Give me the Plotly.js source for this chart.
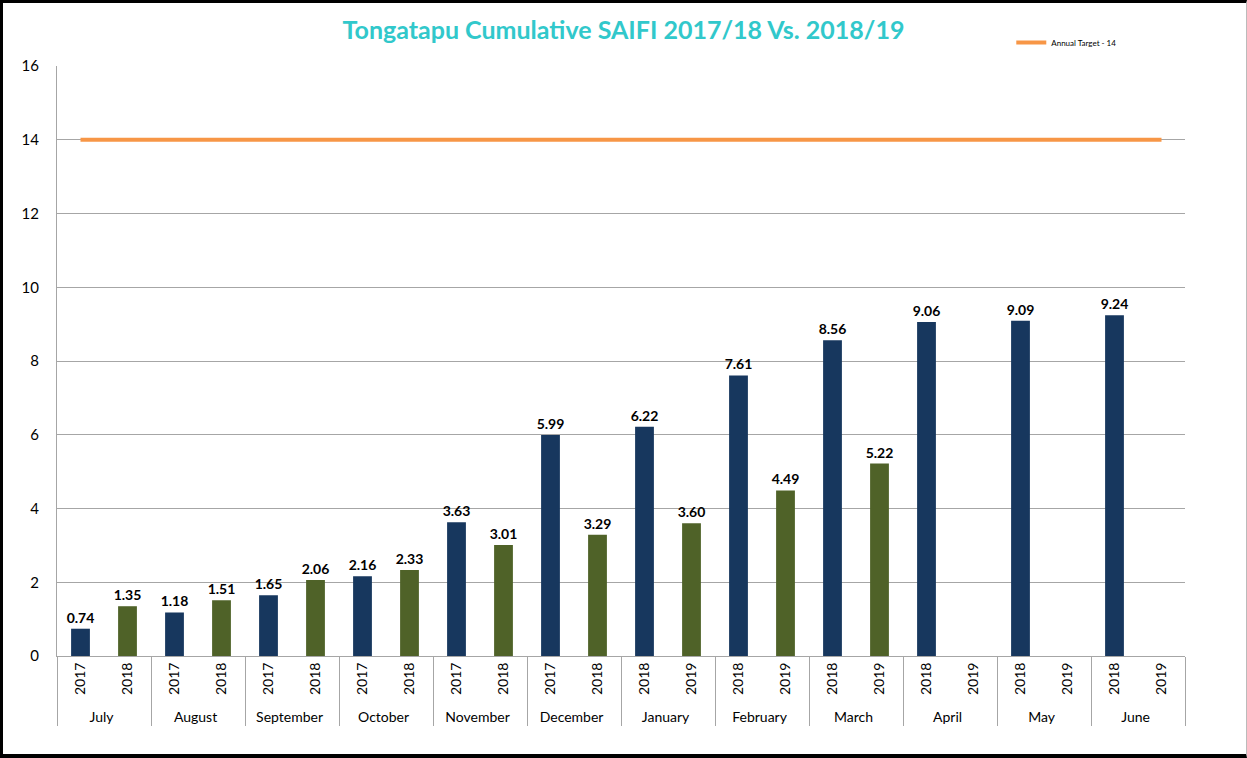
<!DOCTYPE html>
<html>
<head>
<meta charset="utf-8">
<script src="https://cdn.plot.ly/plotly-3.0.1.min.js"></script>
<style>
  html, body { margin: 0; padding: 0; background: #fff; }
  #wrap { position: relative; width: 1247px; height: 758px; }
  #chart { width: 1247px; height: 758px; }
  #frame { position: absolute; left: 0; top: 0; width: 1247px; height: 758px; box-sizing: border-box;
           border-top: 3px solid #000; border-left: 3px solid #000; border-bottom: 4px solid #000; border-right: 1px solid #bbb;
           pointer-events: none; }
</style>
</head>
<body>
<div id="wrap">
  <div id="chart"></div>
  <div id="frame"></div>
</div>
<script>
const months = ["July","August","September","October","November","December","January","February","March","April","May","June"];
const yearsA = ["2017","2017","2017","2017","2017","2017","2018","2018","2018","2018","2018","2018"];
const yearsB = ["2018","2018","2018","2018","2018","2018","2019","2019","2019","2019","2019","2019"];
const saifi1718 = [0.74, 1.18, 1.65, 2.16, 3.63, 5.99, 6.22, 7.61, 8.56, 9.06, 9.09, 9.24];
const saifi1819 = [1.35, 1.51, 2.06, 2.33, 3.01, 3.29, 3.60, 4.49, 5.22, null, null, null];
const targetValue = [14, 14, 14, 14, 14, 14, 14, 14, 14, 14, 14, 14, 14, 14, 14, 14, 14, 14, 14, 14, 14, 14, 14, 14];

const colorA = "#17375E";
const colorB = "#4F6228";

const outer = [], inner = [], vals = [], cols = [];
months.forEach((m, i) => {
  outer.push(m); inner.push(yearsA[i]); vals.push(saifi1718[i]); cols.push(colorA);
  outer.push(m); inner.push(yearsB[i]); vals.push(saifi1819[i]); cols.push(colorB);
});

const font = "Lato, 'Open Sans', sans-serif";

const bars = {
  type: "bar",
  x: [outer, inner],
  y: vals,
  marker: { color: cols },
  width: 0.4,
  text: vals.map(v => v == null ? "" : v.toFixed(2)),
  textposition: "outside",
  constraintext: "none",
  textfont: { family: font, size: 14, color: "#000", weight: "bold" },
  cliponaxis: false,
  showlegend: false,
  hoverinfo: "x+y"
};

const target = {
  type: "scatter",
  mode: "lines",
  x: [outer, inner],
  y: targetValue,
  line: { color: "#F79646", width: 4 },
  name: "Annual Target - 14",
  showlegend: true
};

const layout = {
  width: 1247,
  height: 758,
  margin: { l: 57, r: 62, t: 66, b: 102 },
  paper_bgcolor: "#fff",
  plot_bgcolor: "#fff",
  font: { family: font, color: "#000" },
  title: {
    text: "Tongatapu Cumulative SAIFI 2017/18 Vs. 2018/19",
    font: { family: font, size: 25, color: "#31C8CB", weight: "bold" },
    x: 0.5, xref: "container", xanchor: "center",
    y: 0.96, yref: "container", yanchor: "middle"
  },
  showlegend: true,
  legend: {
    x: 0.846, y: 1.04, xanchor: "left", yanchor: "middle",
    font: { family: font, size: 8, color: "#000" },
    bgcolor: "rgba(0,0,0,0)"
  },
  xaxis: {
    type: "multicategory",
    showline: true, linecolor: "#a6a6a6", linewidth: 1,
    showgrid: false,
    tickangle: -90,
    tickfont: { family: font, size: 14, color: "#000" },
    showdividers: true, dividercolor: "#a6a6a6", dividerwidth: 1,
    ticks: ""
  },
  yaxis: {
    range: [0, 16], dtick: 2,
    showgrid: true, gridcolor: "#a6a6a6", gridwidth: 1,
    showline: true, linecolor: "#a6a6a6", linewidth: 1,
    zeroline: false,
    tickfont: { family: font, size: 15, color: "#000" },
    ticks: "", ticklabelstandoff: 14
  },
  bargap: 0.6
};

Plotly.newPlot("chart", [bars, target], layout, { displayModeBar: false, responsive: false });
</script>
</body>
</html>
